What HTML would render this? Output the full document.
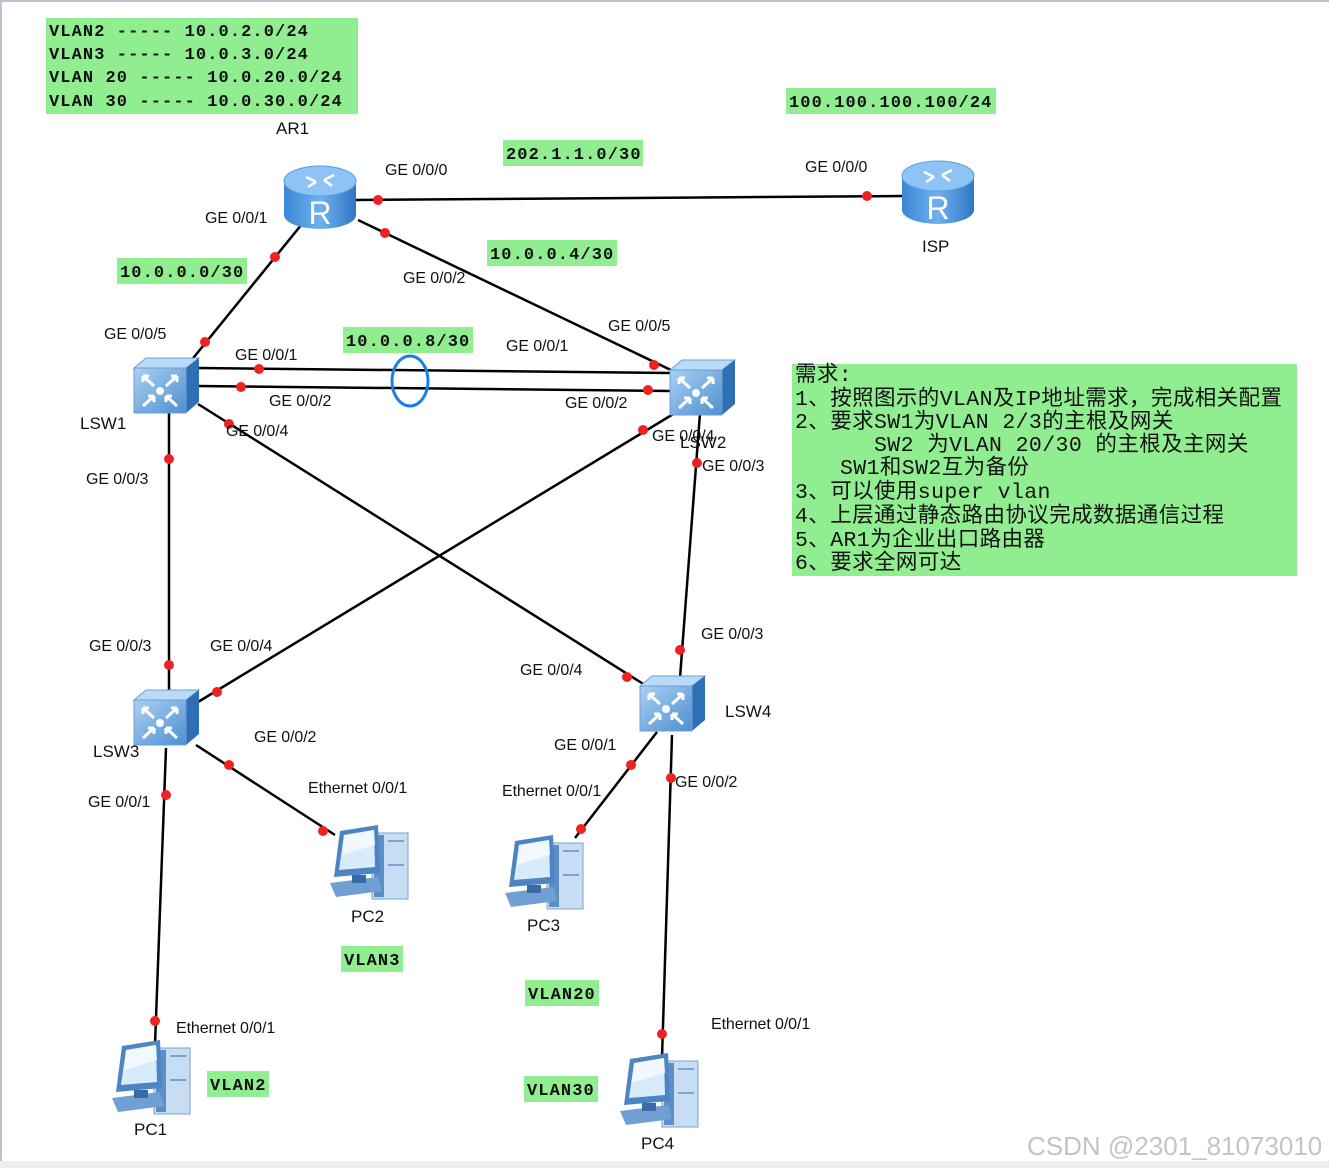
<!DOCTYPE html>
<html><head><meta charset="utf-8">
<style>
html,body{margin:0;padding:0;background:#fff;}
body{width:1329px;height:1168px;overflow:hidden;position:relative;}
svg{position:absolute;left:0;top:0;}
.l{font-family:"Liberation Sans",Arial,sans-serif;font-size:16px;fill:#111;letter-spacing:-0.1px;}
.m{font-family:"Liberation Mono","DejaVu Sans Mono",monospace;font-size:17px;fill:#111;letter-spacing:1.1px;font-weight:bold;}
.c{font-family:"Liberation Mono","Noto Sans CJK SC",monospace;font-size:21.5px;fill:#111;letter-spacing:0.4px;}
.n{font-family:"Liberation Sans",Arial,sans-serif;font-size:17px;fill:#111;}
</style></head><body>
<svg width="1329" height="1168" viewBox="0 0 1329 1168" xmlns="http://www.w3.org/2000/svg">
<defs>
<linearGradient id="sf" x1="0" y1="0" x2="1" y2="1"><stop offset="0" stop-color="#a9d0f3"/><stop offset="1" stop-color="#4f8fd0"/></linearGradient>
<linearGradient id="rb" x1="0" y1="0" x2="1" y2="0"><stop offset="0" stop-color="#3b86d6"/><stop offset="0.5" stop-color="#6fb0ef"/><stop offset="1" stop-color="#2f76c4"/></linearGradient>
<g id="sw">
<polygon points="0,10 12,0 65,0 52,10" fill="#b9dbf7" stroke="#6a9fd3"/>
<polygon points="52,10 65,0 65,44 52,55" fill="#2f6fb5"/>
<rect x="0" y="10" width="52" height="45" fill="url(#sf)" stroke="#6a9fd3"/>
<g stroke="#fff" stroke-width="3" fill="none">
<path d="M9,18 L20,28 M9,18 L15,18 M9,18 L9,24"/>
<path d="M43,18 L32,28 M43,18 L37,18 M43,18 L43,24"/>
<path d="M9,48 L20,38 M20,38 L14,38 M20,38 L20,44"/>
<path d="M43,48 L32,38 M32,38 L38,38 M32,38 L32,44"/>
</g>
<circle cx="26" cy="33" r="4" fill="#fff"/>
</g>
<g id="rt">
<path d="M0,18 L0,52 A36,14 0 0 0 72,52 L72,18 Z" fill="url(#rb)"/>
<ellipse cx="36" cy="18" rx="36" ry="15" fill="#8ec4f5" stroke="#5a9ee0"/>
<g stroke="#fff" stroke-width="2.5" fill="none"><path d="M22,14 L32,19 M40,17 L50,12 M24,24 L32,19 M40,17 L48,23"/></g>
<text x="36" y="61" text-anchor="middle" font-family="Liberation Sans,Arial,sans-serif" font-size="32" fill="#fff">R</text>
</g>
<g id="pc">
<rect x="42" y="8" width="36" height="66" fill="#c6ddf4" stroke="#7aa3cf"/>
<rect x="44" y="10" width="10" height="62" fill="#5d8fc7"/>
<line x1="58" y1="16" x2="74" y2="16" stroke="#7aa3cf" stroke-width="2"/>
<line x1="58" y1="40" x2="74" y2="40" stroke="#7aa3cf" stroke-width="2"/>
<polygon points="10,6 48,0 50,48 4,52" fill="#4d84c2"/>
<polygon points="14,10 44,5 45,42 9,45" fill="#d7ebfb"/>
<polygon points="14,10 44,5 45,20 12,30" fill="#f1f8ff"/>
<polygon points="0,58 48,52 52,66 6,72" fill="#6f9fd3"/>
<rect x="22" y="50" width="14" height="8" fill="#3a6aa6"/>
</g>
</defs>
<line x1="0" y1="1" x2="1329" y2="1" stroke="#b8c4d4" stroke-width="2"/>
<line x1="1" y1="0" x2="1" y2="1161" stroke="#b8c4d4" stroke-width="2"/>
<rect x="0" y="1161" width="1329" height="7" fill="#eeeeee"/>

<rect x="46" y="18" width="312" height="96" fill="#90ee90"/>
<text class="m" x="49" y="36">VLAN2 ----- 10.0.2.0/24</text>
<text class="m" x="49" y="59">VLAN3 ----- 10.0.3.0/24</text>
<text class="m" x="49" y="82">VLAN 20 ----- 10.0.20.0/24</text>
<text class="m" x="49" y="106">VLAN 30 ----- 10.0.30.0/24</text>
<rect x="786" y="88" width="210" height="26" fill="#90ee90"/><text class="m" x="789" y="107">100.100.100.100/24</text>
<rect x="503" y="140" width="140" height="26" fill="#90ee90"/><text class="m" x="506" y="159">202.1.1.0/30</text>
<rect x="487" y="240" width="130" height="26" fill="#90ee90"/><text class="m" x="490" y="259">10.0.0.4/30</text>
<rect x="117" y="258" width="130" height="26" fill="#90ee90"/><text class="m" x="120" y="277">10.0.0.0/30</text>
<rect x="343" y="327" width="130" height="26" fill="#90ee90"/><text class="m" x="346" y="346">10.0.0.8/30</text>
<rect x="341" y="946" width="62" height="26" fill="#90ee90"/><text class="m" x="344" y="965">VLAN3</text>
<rect x="525" y="980" width="74" height="26" fill="#90ee90"/><text class="m" x="528" y="999">VLAN20</text>
<rect x="207" y="1071" width="62" height="26" fill="#90ee90"/><text class="m" x="210" y="1090">VLAN2</text>
<rect x="524" y="1076" width="74" height="26" fill="#90ee90"/><text class="m" x="527" y="1095">VLAN30</text>

<rect x="792" y="364" width="505" height="212" fill="#90ee90"/>
<g class="c">
<text x="795" y="381">需求:</text>
<text x="795" y="405">1、按照图示的VLAN及IP地址需求，完成相关配置</text>
<text x="795" y="428">2、要求SW1为VLAN 2/3的主根及网关</text>
<text x="874" y="451">SW2 为VLAN 20/30 的主根及主网关</text>
<text x="840" y="474">SW1和SW2互为备份</text>
<text x="795" y="498">3、可以使用super vlan</text>
<text x="795" y="522">4、上层通过静态路由协议完成数据通信过程</text>
<text x="795" y="546">5、AR1为企业出口路由器</text>
<text x="795" y="569">6、要求全网可达</text>
</g>

<g stroke="#000" stroke-width="2.5">
<line x1="355" y1="200" x2="903" y2="196"/>
<line x1="302" y1="224" x2="190" y2="362"/>
<line x1="358" y1="220" x2="675" y2="372"/>
<line x1="198" y1="368" x2="672" y2="373"/>
<line x1="198" y1="386" x2="672" y2="391"/>
<line x1="198" y1="404" x2="645" y2="685"/>
<line x1="675" y1="413" x2="198" y2="702"/>
<line x1="169" y1="412" x2="169" y2="692"/>
<line x1="700" y1="413" x2="680" y2="678"/>
<line x1="196" y1="745" x2="335" y2="835"/>
<line x1="166" y1="748" x2="155" y2="1045"/>
<line x1="657" y1="732" x2="575" y2="838"/>
<line x1="672" y1="735" x2="662" y2="1058"/>
</g>
<ellipse cx="410" cy="381" rx="18" ry="25" fill="none" stroke="#1a7de8" stroke-width="3"/>
<g fill="#ee2222">
<circle cx="378" cy="200" r="5"/><circle cx="867" cy="196" r="5"/>
<circle cx="275" cy="257" r="5"/><circle cx="205" cy="342" r="5"/>
<circle cx="385" cy="233" r="5"/><circle cx="654" cy="365" r="5"/>
<circle cx="259" cy="369" r="5"/><circle cx="241" cy="387" r="5"/>
<circle cx="648" cy="390" r="5"/>
<circle cx="229" cy="424" r="5"/><circle cx="627" cy="677" r="5"/>
<circle cx="643" cy="430" r="5"/><circle cx="217" cy="692" r="5"/>
<circle cx="169" cy="459" r="5"/><circle cx="169" cy="665" r="5"/>
<circle cx="697" cy="463" r="5"/><circle cx="680" cy="650" r="5"/>
<circle cx="229" cy="765" r="5"/><circle cx="323" cy="831" r="5"/>
<circle cx="166" cy="795" r="5"/><circle cx="155" cy="1021" r="5"/>
<circle cx="631" cy="765" r="5"/><circle cx="581" cy="829" r="5"/>
<circle cx="671" cy="778" r="5"/><circle cx="662" cy="1034" r="5"/>
</g>

<use href="#rt" x="284" y="163"/>
<use href="#rt" x="902" y="158"/>
<use href="#sw" x="134" y="358"/>
<use href="#sw" x="670" y="360"/>
<use href="#sw" x="134" y="690"/>
<use href="#sw" x="640" y="676"/>
<use href="#pc" x="330" y="825"/>
<use href="#pc" x="505" y="835"/>
<use href="#pc" x="112" y="1040"/>
<use href="#pc" x="620" y="1053"/>

<g class="n">
<text x="276" y="134">AR1</text>
<text x="922" y="252">ISP</text>
<text x="80" y="429">LSW1</text>
<text x="680" y="448">LSW2</text>
<text x="93" y="757">LSW3</text>
<text x="725" y="717">LSW4</text>
<text x="351" y="922">PC2</text>
<text x="527" y="931">PC3</text>
<text x="134" y="1135">PC1</text>
<text x="641" y="1149">PC4</text>
</g>
<g class="l">
<text x="385" y="175">GE 0/0/0</text>
<text x="805" y="172">GE 0/0/0</text>
<text x="205" y="223">GE 0/0/1</text>
<text x="403" y="283">GE 0/0/2</text>
<text x="104" y="339">GE 0/0/5</text>
<text x="608" y="331">GE 0/0/5</text>
<text x="235" y="360">GE 0/0/1</text>
<text x="506" y="351">GE 0/0/1</text>
<text x="269" y="406">GE 0/0/2</text>
<text x="565" y="408">GE 0/0/2</text>
<text x="226" y="436">GE 0/0/4</text>
<text x="652" y="441">GE 0/0/4</text>
<text x="86" y="484">GE 0/0/3</text>
<text x="702" y="471">GE 0/0/3</text>
<text x="89" y="651">GE 0/0/3</text>
<text x="210" y="651">GE 0/0/4</text>
<text x="701" y="639">GE 0/0/3</text>
<text x="520" y="675">GE 0/0/4</text>
<text x="254" y="742">GE 0/0/2</text>
<text x="554" y="750">GE 0/0/1</text>
<text x="675" y="787">GE 0/0/2</text>
<text x="88" y="807">GE 0/0/1</text>
<text x="308" y="793">Ethernet 0/0/1</text>
<text x="502" y="796">Ethernet 0/0/1</text>
<text x="176" y="1033">Ethernet 0/0/1</text>
<text x="711" y="1029">Ethernet 0/0/1</text>
</g>
<text x="1027" y="1155" font-family="Liberation Sans,Arial,sans-serif" font-size="26" fill="#c4c4c4">CSDN @2301_81073010</text>
</svg>
</body></html>
